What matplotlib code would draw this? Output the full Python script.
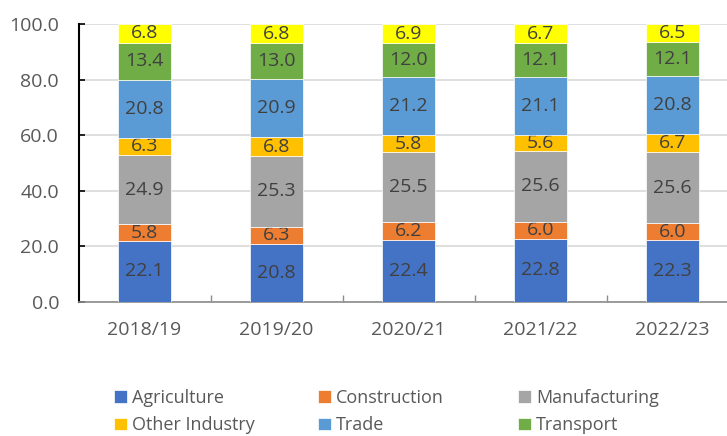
import matplotlib
matplotlib.use("Agg")
import matplotlib.pyplot as plt
from matplotlib.ticker import MultipleLocator, FixedLocator
import numpy as np

categories = ["2018/19", "2019/20", "2020/21", "2021/22", "2022/23"]
agriculture = [22.1, 20.8, 22.4, 22.8, 22.3]
construction = [5.8, 6.3, 6.2, 6.0, 6.0]
manufacturing = [24.9, 25.3, 25.5, 25.6, 25.6]
other_industry = [6.3, 6.8, 5.8, 5.6, 6.7]
trade = [20.8, 20.9, 21.2, 21.1, 20.8]
transport = [13.4, 13.0, 12.0, 12.1, 12.1]
other_services = [6.8, 6.8, 6.9, 6.7, 6.5]

series_names = ["Agriculture", "Construction", "Manufacturing", "Other Industry",
                "Trade", "Transport", "Other Services"]
series_values = [agriculture, construction, manufacturing, other_industry,
                 trade, transport, other_services]
colors = ["#4472C4", "#ED7D31", "#A5A5A5", "#FFC000", "#5B9BD5", "#70AD47", "#FFFF00"]

plt.rcParams['font.family'] = ['Open Sans', 'DejaVu Sans']
FS = 14
LFS = 13

W, H = 727, 436
fig = plt.figure(figsize=(W / 100, H / 100), dpi=100)
ax = fig.add_axes([78.5 / W, (H - 302) / H, 660 / W, 278 / H])

x = np.arange(len(categories))
bottom = np.zeros(len(categories))
handles = []
for name, vals, c in zip(series_names, series_values, colors):
    vals = np.array(vals)
    bars = ax.bar(x, vals, width=0.40, bottom=bottom, color=c, label=name,
                  edgecolor="white", linewidth=0.5, zorder=3)
    ax.bar_label(bars, labels=[f"{v:.1f}" for v in vals], label_type="center",
                 color="#404040", fontsize=FS)
    handles.append(bars)
    bottom += vals

ax.set_xlim(-0.5, len(categories) - 0.5)
ax.set_ylim(0, 100)
ax.yaxis.set_major_locator(MultipleLocator(20))
ax.yaxis.set_major_formatter(matplotlib.ticker.FormatStrFormatter("%.1f"))
ax.grid(axis="y", color="#D9D9D9", linewidth=1.2, zorder=0)
ax.set_axisbelow(True)

ax.set_xticks(x)
ax.set_xticklabels(categories)
ax.xaxis.set_minor_locator(FixedLocator(np.arange(len(categories)) + 0.5))
ax.tick_params(axis="x", which="major", length=0, pad=13.5, labelsize=FS, labelcolor="#595959")
ax.tick_params(axis="x", which="minor", length=5, width=1, color="#8C8C8C", direction="in")
ax.tick_params(axis="y", which="major", length=4.5, width=1.2, color="black", direction="in",
               pad=14, labelsize=FS, labelcolor="#595959")

for s in ["top", "right"]:
    ax.spines[s].set_visible(False)
ax.spines["left"].set_color("black")
ax.spines["left"].set_linewidth(1.5)
ax.spines["bottom"].set_color("#8C8C8C")
ax.spines["bottom"].set_linewidth(1.2)

# legend: three columns of two entries (the seventh entry lies below the visible area)
col_x = [114, 318, 518]
cols = [[0, 3], [1, 4], [2, 5]]
for cx, idxs in zip(col_x, cols):
    fig.legend([handles[i] for i in idxs], [series_names[i] for i in idxs],
               loc="upper left", bbox_to_anchor=(cx / W, (H - 389) / H),
               frameon=False, fontsize=LFS, handlelength=0.7, handleheight=0.7,
               handletextpad=0.3, labelspacing=0.52, borderpad=0, borderaxespad=0,
               labelcolor="#595959")

fig.savefig("out.png", dpi=100)
